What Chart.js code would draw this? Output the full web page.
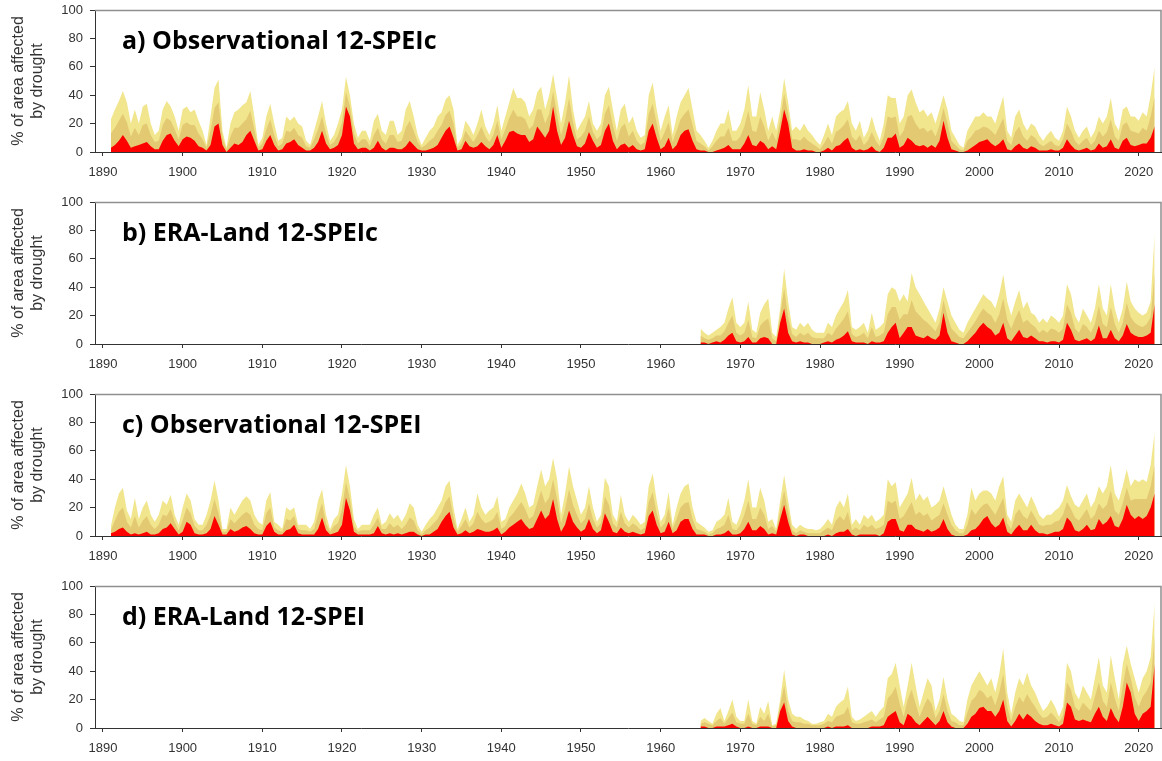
<!DOCTYPE html>
<html>
<head>
<meta charset="utf-8">
<script src="https://cdn.jsdelivr.net/npm/chart.js@4.4.1/dist/chart.umd.min.js"></script>
<style>
  html, body { margin: 0; padding: 0; background: #fff; overflow: hidden; }
  #wrap { position: relative; width: 1162px; height: 761px; }
  .panel { position: absolute; left: 0; width: 1162px; height: 192px; }
</style>
</head>
<body>
<div id="wrap">
  <div class="panel" style="top:0px"><canvas id="c0" width="1162" height="192"></canvas></div>
  <div class="panel" style="top:192px"><canvas id="c1" width="1162" height="192"></canvas></div>
  <div class="panel" style="top:384px"><canvas id="c2" width="1162" height="192"></canvas></div>
  <div class="panel" style="top:576px"><canvas id="c3" width="1162" height="192"></canvas></div>
</div>
<script>
// ---------- tick labels / categories ----------
const decadeTicks = [1890, 1900, 1910, 1920, 1930, 1940, 1950, 1960, 1970, 1980, 1990, 2000, 2010, 2020];
const yTicks = [0, 20, 40, 60, 80, 100];
const panelTitles = ['a) Observational 12-SPEIc', 'b) ERA-Land 12-SPEIc', 'c) Observational 12-SPEI', 'd) ERA-Land 12-SPEI'];
const yAxisTitle = ['% of area affected', 'by drought'];
// half-yearly time steps
const obsStartYear = 1891;   // observational series start
const eraStartYear = 1965;   // ERA-Land series start
const timeStep = 0.5;

// ---------- a) Observational 12-SPEIc (% area) ----------
const obsSpeicMild = [
  23,30,36,43,35,20,30,20,32,34, 20,12,15,30,36,32,25,15,30,32,
  28,30,22,15,5,25,45,51,15,3,   20,28,30,33,35,43,25,5,10,25,
  34,20,8,10,25,22,25,20,18,8,   5,15,25,36,20,8,12,20,30,53,
  40,20,10,15,15,8,22,27,15,12,  22,22,12,15,30,36,25,12,5,10,
  15,18,25,28,37,40,30,5,10,22,  18,12,20,30,18,12,20,33,15,25,
  35,45,38,38,35,25,30,42,46,30, 40,55,38,20,35,54,30,15,20,25,
  36,20,15,20,40,46,30,15,30,34, 20,25,15,10,12,40,49,30,15,25,
  33,12,25,35,40,45,30,15,12,8,  3,8,15,20,20,30,15,15,20,30,
  47,25,25,42,30,15,25,15,30,52, 35,15,18,15,20,15,12,8,5,12,
  20,12,25,28,30,36,20,15,22,10, 15,25,15,8,20,40,38,38,20,25,
  40,44,35,28,30,25,28,20,30,40, 30,15,10,5,3,15,20,25,25,28,
  25,25,20,30,39,15,10,25,30,20, 15,20,18,12,8,12,15,10,8,15,
  32,25,15,10,15,18,10,15,25,20, 25,38,20,15,30,32,25,25,22,28,
  25,40,60
];
const obsSpeicModerate = [
  13,17,22,27,21,11,17,12,19,20, 12,7,8,19,24,22,16,9,19,21,
  19,19,13,9,3,15,31,35,10,2,    11,17,17,20,23,29,16,3,6,16,
  23,12,4,6,15,14,17,12,10,4,    3,9,16,25,13,5,7,12,21,42,
  32,13,6,9,9,4,12,17,9,6,       12,12,7,8,17,22,15,7,3,5,
  8,10,15,19,26,29,20,3,6,15,    11,7,12,18,11,7,12,22,9,16,
  24,30,25,25,23,16,19,30,30,20, 27,43,26,12,22,38,21,9,11,15,
  25,14,9,12,27,33,19,8,17,20,   11,15,8,5,7,27,34,20,8,14,
  21,7,15,23,27,30,19,8,6,4,     1,4,8,11,11,17,8,8,11,18,
  29,15,14,25,18,8,14,8,22,41,   27,9,9,8,11,8,6,4,2,6,
  11,6,14,16,19,23,11,8,12,5,    8,14,8,4,11,25,24,25,11,15,
  25,26,20,16,17,14,16,11,19,31, 20,8,5,2,1,8,11,15,16,18,
  17,15,12,18,24,8,5,14,18,11,   8,12,10,6,4,6,8,5,4,9,
  20,15,8,5,8,10,5,8,15,11,      14,23,11,8,19,21,15,14,13,17,
  15,25,39
];
const obsSpeicSevere = [
  3,5,8,12,8,3,4,5,6,7,          4,2,2,8,12,13,8,4,9,11,
  10,8,4,3,1,5,18,20,5,0,        3,6,5,7,12,15,8,1,2,8,
  12,5,1,2,6,7,9,5,3,1,          1,3,7,15,6,2,3,5,12,32,
  25,6,2,3,3,1,3,8,3,1,          3,3,2,2,4,8,5,2,1,1,
  2,3,5,10,15,18,10,1,2,8,       4,3,4,7,4,2,5,12,3,8,
  14,15,13,12,12,7,9,18,14,10,   15,32,15,5,10,22,12,4,3,6,
  14,8,3,5,15,20,8,2,5,6,        3,5,2,1,2,15,20,10,2,4,
  10,2,5,12,15,16,8,2,1,1,       0,0,1,2,3,5,2,2,2,6,
  12,5,4,8,6,2,4,2,15,30,        20,3,1,1,2,1,1,0,0,1,
  3,1,4,5,8,10,3,1,2,1,          2,4,1,0,3,10,10,13,3,5,
  10,8,5,4,5,3,5,3,8,22,         10,2,1,0,0,1,3,5,7,8,
  9,6,4,6,9,2,1,4,6,3,           2,4,3,1,1,1,2,1,1,3,
  9,5,2,1,2,3,1,2,6,3,           4,9,3,2,8,10,5,4,5,6,
  6,10,18
];

// ---------- b) ERA-Land 12-SPEIc ----------
const eraSpeicMild = [
  11,8,6,8,10,12,15,25,33,15,  12,15,30,10,8,22,28,32,8,5,
  25,53,30,12,10,15,12,15,10,8, 8,8,15,12,20,25,30,38,12,10,
  12,15,8,22,10,12,15,35,40,38, 30,35,30,50,40,35,30,25,20,15,
  25,40,30,20,15,10,8,15,20,25, 30,35,32,30,25,35,49,30,20,30,
  38,25,30,22,20,15,18,15,20,18, 15,20,42,35,20,15,25,20,15,25,
  42,25,20,42,25,15,25,44,30,25, 22,20,22,30,78
];
const eraSpeicModerate = [
  6,4,3,4,6,6,9,15,20,8,       6,8,17,5,4,13,16,18,4,2,
  20,39,19,7,5,8,6,8,5,4,      4,4,8,6,11,14,18,23,7,5,
  6,8,4,12,5,6,8,21,26,26,     17,21,21,31,23,20,17,15,12,9,
  15,31,19,11,8,5,4,8,12,16,   21,25,22,20,15,21,32,17,11,18,
  24,15,17,14,12,8,10,8,11,10, 8,11,28,22,11,8,14,12,8,14,
  27,14,12,26,14,8,15,29,19,15, 13,12,14,19,50
];
const eraSpeicSevere = [
  1,1,0,1,2,1,3,6,8,2,         1,2,5,1,1,4,5,4,0,0,
  15,25,8,2,1,2,1,1,0,0,       0,1,2,1,3,4,6,9,2,1,
  1,1,0,2,1,1,2,8,12,15,       4,8,12,12,6,5,4,6,4,3,
  6,22,8,2,1,0,0,2,5,8,        12,15,12,10,6,8,15,4,2,6,
  10,5,4,6,4,2,2,1,2,2,        1,3,15,10,3,2,3,4,2,4,
  13,4,4,10,4,2,6,14,8,6,      5,5,6,8,28
];

// ---------- c) Observational 12-SPEI ----------
const obsSpeiMild = [
  7,20,30,34,18,12,27,12,20,25,  15,10,15,25,22,29,15,8,20,30,
  25,12,8,8,15,25,39,25,5,5,     20,15,20,25,28,25,15,10,8,25,
  31,10,8,5,20,18,20,8,8,8,      5,10,25,33,15,5,12,15,30,50,
  35,12,5,8,8,8,15,20,8,10,      16,12,15,10,15,23,20,8,3,8,
  12,15,20,25,35,39,20,5,12,20,  10,15,30,20,15,18,20,28,10,12,
  20,25,30,37,30,20,22,35,47,35, 40,55,40,15,30,49,35,25,15,20,
  35,20,10,15,41,35,15,10,29,15, 10,15,12,8,10,35,44,25,10,15,
  31,8,20,30,35,37,20,10,8,6,    3,4,10,12,15,27,10,8,15,25,
  40,20,20,34,25,10,12,5,25,43,  25,8,5,8,6,5,5,4,5,8,
  12,8,20,25,20,30,8,12,8,15,    12,15,10,12,15,40,35,38,20,25,
  30,41,25,30,25,28,20,22,25,35, 25,15,8,5,5,15,34,25,30,32,
  32,30,25,35,42,15,10,25,30,25, 20,28,22,15,12,15,15,18,20,25,
  36,28,22,20,25,30,20,25,35,30, 35,50,30,25,35,47,35,40,38,40,
  38,50,73
];
const obsSpeiModerate = [
  4,11,17,20,10,6,14,6,11,14,    8,5,8,15,14,19,10,4,11,20,
  16,7,4,4,8,15,26,16,3,3,       12,9,12,15,17,15,8,5,4,16,
  20,6,4,3,12,11,14,5,4,4,       3,5,15,23,9,3,7,9,19,38,
  26,7,3,4,4,4,8,13,5,5,         9,6,8,5,8,13,11,4,1,4,
  6,9,12,17,24,28,13,3,7,12,     6,9,17,12,9,10,12,17,5,7,
  13,16,20,24,19,12,14,23,32,23, 27,40,26,9,19,33,22,15,9,12,
  23,12,6,9,28,22,9,6,17,9,      6,9,7,4,6,24,31,16,6,9,
  20,5,12,20,23,24,12,5,4,3,     1,2,5,6,8,15,5,4,8,15,
  25,12,12,20,15,5,7,3,18,32,    17,4,2,4,3,2,2,2,2,4,
  6,4,11,14,11,17,4,6,4,8,       6,8,5,6,8,25,23,25,12,14,
  19,24,15,17,14,16,11,13,15,23, 15,8,4,2,2,8,19,15,19,22,
  23,19,15,21,27,9,5,15,19,14,   12,18,13,8,7,8,8,10,11,15,
  24,19,13,11,15,19,12,15,23,19, 22,32,18,15,23,34,25,26,26,26,
  26,35,50
];
const obsSpeiSevere = [
  2,3,5,6,3,1,2,1,2,3,           1,1,2,5,6,9,5,1,3,10,
  8,2,1,1,2,5,14,8,1,1,          5,3,4,6,7,5,2,1,1,7,
  10,3,1,1,4,5,8,2,1,1,          1,1,5,13,4,1,2,3,8,27,
  18,3,1,1,1,1,2,7,2,1,          2,1,2,1,2,3,3,1,0,1,
  1,3,5,10,14,17,6,1,2,4,        2,3,5,4,3,3,4,6,1,3,
  6,8,10,12,8,5,6,12,18,12,      15,26,12,3,8,18,10,6,3,5,
  12,5,2,4,16,10,3,2,6,3,        2,3,2,1,2,14,18,8,2,3,
  10,2,4,10,12,12,5,1,1,1,       0,0,1,1,2,4,1,1,2,5,
  10,4,4,7,5,1,2,1,12,22,        10,1,0,1,1,0,0,0,0,0,
  1,0,2,3,3,5,1,0,1,1,           1,1,1,0,2,10,12,12,4,3,
  8,8,5,4,3,5,3,4,6,12,          5,1,0,0,0,1,4,5,8,12,
  14,9,6,8,13,3,1,5,8,4,         4,8,4,2,2,1,2,3,3,5,
  13,10,4,3,5,8,4,5,12,8,        10,14,7,6,12,22,15,12,14,12,
  14,20,30
];

// ---------- d) ERA-Land 12-SPEI ----------
const eraSpeiMild = [
  5,7,5,3,10,14,5,12,20,8,     5,5,20,5,3,15,10,19,2,3,
  20,41,20,10,8,8,6,5,3,3,     4,5,10,8,15,18,20,29,8,5,
  6,8,10,12,8,12,15,35,38,46,  30,15,30,46,30,15,25,35,30,12,
  20,36,20,10,8,5,4,20,30,35,  40,35,30,35,25,38,56,25,10,25,
  35,30,39,30,25,18,12,15,20,15, 8,15,46,40,25,20,30,25,20,35,
  50,30,25,51,35,20,45,58,45,35, 25,35,40,50,88
];
const eraSpeiModerate = [
  3,4,3,2,5,7,3,7,11,4,        3,3,10,3,2,8,5,10,1,2,
  16,30,12,5,4,4,3,3,2,2,      2,3,5,4,8,9,10,15,4,3,
  3,4,5,6,4,6,8,21,24,29,      17,8,20,27,17,8,15,21,17,7,
  12,24,12,5,4,2,2,11,19,22,   27,25,21,23,16,25,38,15,5,15,
  22,18,24,19,15,10,7,8,11,8,  4,9,32,27,15,12,18,15,12,22,
  32,19,15,32,21,12,30,45,35,22, 15,22,26,32,65
];
const eraSpeiSevere = [
  1,1,0,0,1,1,1,2,3,1,         0,0,1,0,0,1,1,1,0,0,
  12,18,5,1,0,0,0,0,0,0,       0,0,1,0,1,1,1,2,0,0,
  0,0,0,1,1,1,2,8,10,12,       4,2,10,8,4,2,5,8,5,2,
  5,12,4,1,0,0,0,3,8,10,       14,15,12,12,8,12,20,5,1,5,
  10,6,10,8,5,3,2,2,3,2,       1,3,18,15,6,5,6,5,4,10,
  15,8,5,14,8,4,15,32,25,10,   5,10,12,15,45
];

// ---------- styling ----------
const COL_MILD = '#F1E68E';
const COL_MOD = '#E3CA72';
const COL_SEV = '#FF0000';
const AXIS_COL = '#333333';
const FRAME_COL = '#8f8f8f';

Chart.defaults.font.family = '"Liberation Sans", Arial, sans-serif';
Chart.defaults.color = '#333';

const frameAndTitle = {
  id: 'frameAndTitle',
  afterDraw(chart, args, opts) {
    const ctx = chart.ctx, a = chart.chartArea;
    ctx.save();
    ctx.strokeStyle = FRAME_COL;
    ctx.lineWidth = 1.5;
    ctx.beginPath();
    ctx.moveTo(a.left, a.top + 0.5);
    ctx.lineTo(a.right, a.top + 0.5);
    ctx.lineTo(a.right, a.bottom);
    ctx.stroke();
    ctx.fillStyle = '#000';
    ctx.font = 'bold 25px "Open Sans", "Noto Sans", sans-serif';
    ctx.textBaseline = 'alphabetic';
    ctx.textAlign = 'left';
    ctx.fillText(opts.text, a.left + 27, a.top + 39);
    ctx.restore();
  }
};

function series(values, start) {
  return values.map((v, i) => ({ x: start + i * timeStep, y: v }));
}

function makePanel(id, title, start, mild, moderate, severe) {
  new Chart(document.getElementById(id), {
    type: 'line',
    data: {
      datasets: [
        { data: series(severe, start), backgroundColor: COL_SEV, fill: 'origin', order: 1 },
        { data: series(moderate, start), backgroundColor: COL_MOD, fill: 'origin', order: 2 },
        { data: series(mild, start), backgroundColor: COL_MILD, fill: 'origin', order: 3 }
      ]
    },
    options: {
      responsive: false,
      animation: false,
      events: [],
      layout: { padding: { top: 10, right: 1, left: 0, bottom: 0 } },
      elements: {
        line: { tension: 0, borderWidth: 0, borderColor: 'rgba(0,0,0,0)' },
        point: { radius: 0 }
      },
      plugins: {
        legend: { display: false },
        tooltip: { enabled: false },
        frameAndTitle: { text: title }
      },
      scales: {
        x: {
          type: 'linear',
          min: 1889,
          max: 2022.8,
          afterBuildTicks: (s) => { s.ticks = decadeTicks.map(v => ({ value: v })); },
          afterFit: (s) => { s.height = 40; s.paddingLeft = 0; s.paddingRight = 0; },
          grid: { drawOnChartArea: false, drawTicks: true, tickLength: 4, color: AXIS_COL },
          border: { display: true, color: AXIS_COL, width: 1 },
          ticks: { font: { size: 13 }, color: '#333', padding: 9, maxRotation: 0, autoSkip: false,
                   callback: (v) => String(v) }
        },
        y: {
          min: 0,
          max: 100,
          afterBuildTicks: (s) => { s.ticks = yTicks.map(v => ({ value: v })); },
          afterFit: (s) => { s.width = 95; s.paddingTop = 0; s.paddingBottom = 0; },
          grid: { drawOnChartArea: false, drawTicks: true, tickLength: 5, color: AXIS_COL },
          border: { display: true, color: AXIS_COL, width: 1 },
          ticks: { font: { size: 13 }, color: '#333', padding: 7 },
          title: { display: true, text: yAxisTitle, font: { size: 16, lineHeight: 1.2 }, color: '#333',
                   padding: { top: 9, bottom: 0 } }
        }
      }
    },
    plugins: [frameAndTitle]
  });
}

makePanel('c0', panelTitles[0], obsStartYear, obsSpeicMild, obsSpeicModerate, obsSpeicSevere);
makePanel('c1', panelTitles[1], eraStartYear, eraSpeicMild, eraSpeicModerate, eraSpeicSevere);
makePanel('c2', panelTitles[2], obsStartYear, obsSpeiMild, obsSpeiModerate, obsSpeiSevere);
makePanel('c3', panelTitles[3], eraStartYear, eraSpeiMild, eraSpeiModerate, eraSpeiSevere);
</script>
</body>
</html>
